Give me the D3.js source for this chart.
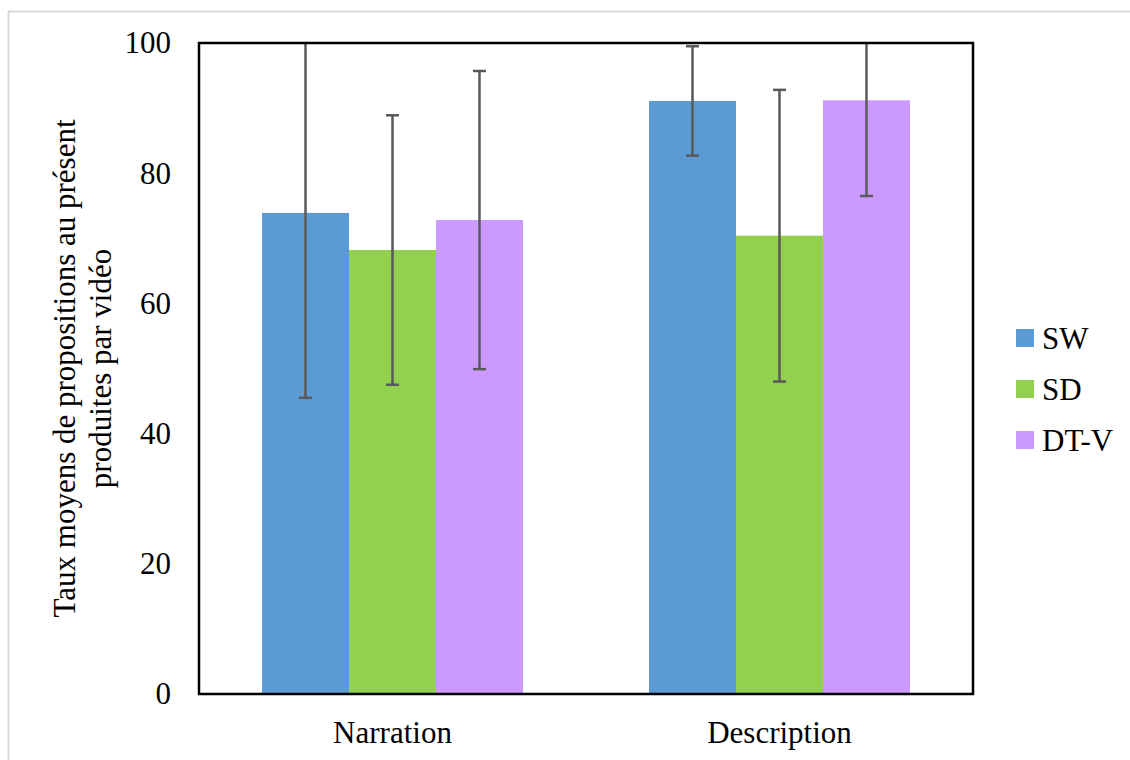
<!DOCTYPE html>
<html>
<head>
<meta charset="utf-8">
<script src="https://cdn.jsdelivr.net/npm/d3@7"></script>
<style>
  html, body { margin: 0; padding: 0; background: #fff; }
  svg { display: block; }
  text { font-family: "Liberation Serif", "Times New Roman", serif; fill: #000; }
</style>
</head>
<body>
<svg id="chart" width="1130" height="760"></svg>
<script>
const categories = ["Narration", "Description"];
const series = ["SW", "SD", "DT-V"];
const colors = ["#5b9bd5", "#92d050", "#cc99ff"];
// mean values per series, indexed by category
const swValues = [73.9, 91.1];
const sdValues = [68.2, 70.4];
const dtvValues = [72.8, 91.2];
// error (± standard deviation) per series
const swErrors = [28.4, 8.4];
const sdErrors = [20.7, 22.4];
const dtvErrors = [22.9, 14.7];
const yTicks = [0, 20, 40, 60, 80, 100];
const yTitle = ["Taux moyens de propositions au présent", "produites par vidéo"];

const valuesBySeries = [swValues, sdValues, dtvValues];
const errorsBySeries = [swErrors, sdErrors, dtvErrors];

const FONT = "'Liberation Serif', 'Times New Roman', serif";
const svg = d3.select("#chart");
const m = { left: 199, right: 973, top: 43, bottom: 694 };

// outer chart border
svg.append("rect")
  .attr("x", 8.5).attr("y", 11.5)
  .attr("width", 1140).attr("height", 760)
  .attr("fill", "#fff").attr("stroke", "#d9d9d9").attr("stroke-width", 2);

const x0 = d3.scaleBand().domain(categories).range([m.left, m.right])
  .paddingInner(0.3256).paddingOuter(0.1628);
const x1 = d3.scaleBand().domain(series).range([0, x0.bandwidth()]).padding(0);
const y = d3.scaleLinear().domain([0, 100]).range([m.bottom, m.top]);

const data = [];
categories.forEach((c, ci) => {
  series.forEach((s, si) => {
    data.push({ cat: c, ser: s, si, v: valuesBySeries[si][ci], e: errorsBySeries[si][ci] });
  });
});

svg.append("defs").append("clipPath").attr("id", "plotclip")
  .append("rect").attr("x", m.left).attr("y", m.top)
  .attr("width", m.right - m.left).attr("height", m.bottom - m.top);

// bars
svg.append("g").selectAll("rect").data(data).join("rect")
  .attr("x", d => x0(d.cat) + x1(d.ser))
  .attr("y", d => y(d.v))
  .attr("width", x1.bandwidth())
  .attr("height", d => y(0) - y(d.v))
  .attr("fill", d => colors[d.si]);

// error bars
const eg = svg.append("g").attr("clip-path", "url(#plotclip)")
  .attr("stroke", "#595959").attr("stroke-width", 2.5).attr("fill", "none");
data.forEach(d => {
  const cx = x0(d.cat) + x1(d.ser) + x1.bandwidth() / 2;
  const hi = y(d.v + d.e), lo = y(d.v - d.e);
  eg.append("line").attr("x1", cx).attr("x2", cx).attr("y1", hi).attr("y2", lo);
  eg.append("line").attr("x1", cx - 6.5).attr("x2", cx + 6.5).attr("y1", hi).attr("y2", hi);
  eg.append("line").attr("x1", cx - 6.5).attr("x2", cx + 6.5).attr("y1", lo).attr("y2", lo);
});

// plot frame
svg.append("rect")
  .attr("x", m.left).attr("y", m.top)
  .attr("width", m.right - m.left).attr("height", m.bottom - m.top)
  .attr("fill", "none").attr("stroke", "#000").attr("stroke-width", 2.5);

// y axis
const yAxis = d3.axisLeft(y).tickValues(yTicks).tickSize(0).tickPadding(28).tickFormat(d3.format("d"));
const ya = svg.append("g").attr("transform", `translate(${m.left},0)`).call(yAxis)
  .attr("font-family", null).attr("font-size", null);
ya.select(".domain").remove();
ya.selectAll("text").style("font-size", "31px").style("font-family", FONT).attr("fill", "#000");

// x axis
const xAxis = d3.axisBottom(x0).tickSize(0).tickPadding(27);
const xa = svg.append("g").attr("transform", `translate(0,${m.bottom})`).call(xAxis)
  .attr("font-family", null).attr("font-size", null);
xa.select(".domain").remove();
xa.selectAll("text").style("font-size", "31px").style("font-family", FONT).attr("fill", "#000");

// y title
const cy = (m.top + m.bottom) / 2;
const yt = svg.append("text")
  .attr("transform", `translate(75,${cy}) rotate(-90)`)
  .attr("text-anchor", "middle")
  .style("font-size", "31px").style("font-family", FONT);
yTitle.forEach((t, i) => {
  yt.append("tspan").attr("x", 0).attr("dy", i === 0 ? 0 : 36).text(t);
});

// legend
const lg = svg.append("g");
const legY = [338, 389, 440];
series.forEach((s, i) => {
  lg.append("rect").attr("x", 1016).attr("y", legY[i] - 9).attr("width", 18).attr("height", 18).attr("fill", colors[i]);
  lg.append("text").attr("x", 1042).attr("y", legY[i]).attr("dy", "0.35em")
    .style("font-size", "31px").style("font-family", FONT).text(s);
});
</script>
</body>
</html>
